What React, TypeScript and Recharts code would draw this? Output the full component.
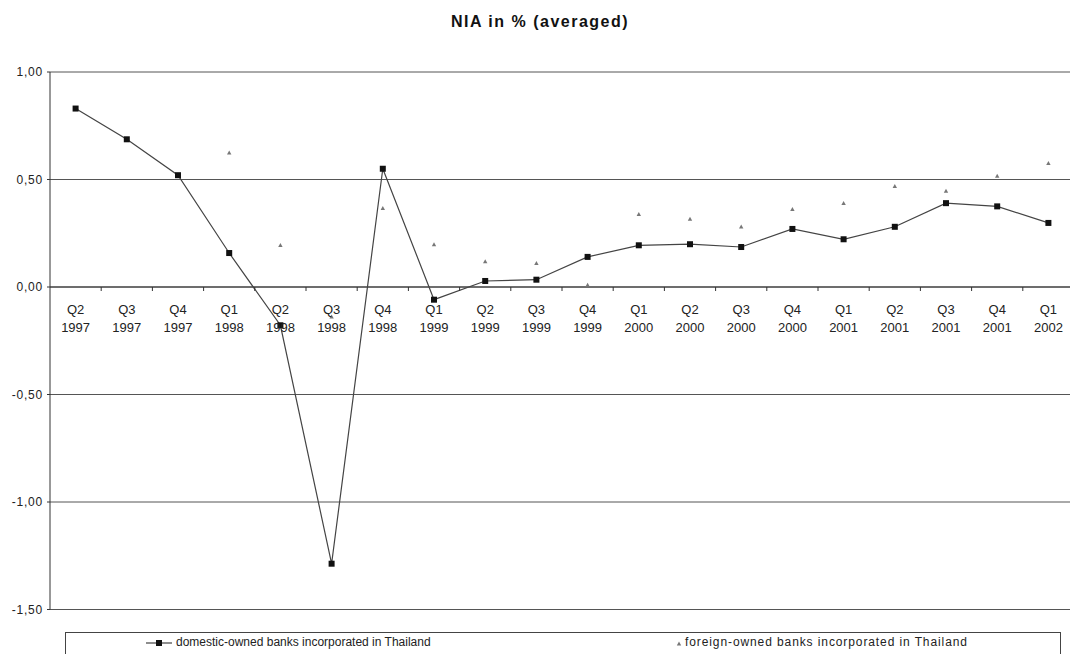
import React from 'react';
import {
  LineChart,
  Line,
  XAxis,
  YAxis,
  CartesianGrid,
  ReferenceLine,
} from 'recharts';

const quarterLabels = ['Q2', 'Q3', 'Q4', 'Q1', 'Q2', 'Q3', 'Q4', 'Q1', 'Q2', 'Q3', 'Q4', 'Q1', 'Q2', 'Q3', 'Q4', 'Q1', 'Q2', 'Q3', 'Q4', 'Q1'];
const yearLabels = ['1997', '1997', '1997', '1998', '1998', '1998', '1998', '1999', '1999', '1999', '1999', '2000', '2000', '2000', '2000', '2001', '2001', '2001', '2001', '2002'];

const domesticNia = [0.83, 0.687, 0.52, 0.158, -0.178, -1.287, 0.55, -0.059, 0.028, 0.034, 0.14, 0.194, 0.199, 0.186, 0.27, 0.222, 0.28, 0.39, 0.375, 0.298];
const foreignNia = [null, null, null, 0.623, 0.193, -0.14, 0.365, 0.197, 0.118, 0.109, 0.008, 0.337, 0.315, 0.279, 0.36, 0.388, 0.468, 0.445, 0.515, 0.574];

const yTicks = [-1.5, -1, -0.5, 0, 0.5, 1];

const data = quarterLabels.map((q, i) => ({
  key: `${q} ${yearLabels[i]}`,
  q,
  year: yearLabels[i],
  domestic: domesticNia[i],
  foreign: foreignNia[i],
}));

const FONT = '"Liberation Sans", Arial, sans-serif';
const Y_MIN = -1.5;
const Y_MAX = 1;
const PLOT_TOP = 72;
const PLOT_H = 537.5;
const PLOT_LEFT = 50;
const PLOT_W = 1024;
const BAND = PLOT_W / data.length;
const ZERO_Y = PLOT_TOP + (PLOT_H * Y_MAX) / (Y_MAX - Y_MIN);

const fmt = (v: number) => v.toFixed(2).replace('.', ',');

// category labels sit under the zero line, not at the bottom of the plot
const XTick = (props: any) => {
  const { x, index, payload } = props;
  const row = data[index] ?? data.find((d) => d.key === payload.value);
  return (
    <g>
      {index > 0 && (
        <line x1={x - BAND / 2} x2={x - BAND / 2} y1={ZERO_Y} y2={ZERO_Y + 4} stroke="#333" />
      )}
      <text x={x} y={ZERO_Y + 27} textAnchor="middle" fontSize={13} fill="#222" fontFamily={FONT}>
        {row?.q}
      </text>
      <text x={x} y={ZERO_Y + 45} textAnchor="middle" fontSize={13} fill="#222" fontFamily={FONT}>
        {row?.year}
      </text>
    </g>
  );
};

const SquareDot = (props: any) => {
  const { cx, cy, index } = props;
  if (cx == null || cy == null) return <g key={index} />;
  return <rect key={index} x={cx - 3} y={cy - 3} width={6} height={6} fill="#111" />;
};

const TriangleDot = (props: any) => {
  const { cx, cy, index, value } = props;
  if (cx == null || cy == null || value == null) return <g key={index} />;
  return (
    <polygon
      key={index}
      points={`${cx},${cy - 2.5} ${cx - 2.2},${cy + 1.5} ${cx + 2.2},${cy + 1.5}`}
      fill="#777"
    />
  );
};

export default function App() {
  return (
    <div
      style={{
        position: 'absolute',
        left: 0,
        top: 0,
        width: 1070,
        height: 654,
        overflow: 'hidden',
        background: '#fff',
        fontFamily: FONT,
      }}
    >
      <div
        style={{
          position: 'absolute',
          left: 0,
          width: 1080,
          top: 13,
          textAlign: 'center',
          fontSize: 16,
          lineHeight: '18px',
          fontWeight: 'bold',
          letterSpacing: 1.5,
          color: '#111',
        }}
      >
        NIA in % (averaged)
      </div>

      <div style={{ position: 'absolute', left: 0, top: 0 }}>
        <LineChart
          width={PLOT_LEFT + PLOT_W + 2}
          height={PLOT_TOP + PLOT_H + 40}
          data={data}
          margin={{ top: PLOT_TOP, right: 2, bottom: 39, left: 0 }}
        >
          <CartesianGrid vertical={false} stroke="#555" strokeWidth={1} />
          <XAxis
            dataKey="key"
            scale="band"
            interval={0}
            height={1}
            axisLine={false}
            tickLine={false}
            tick={<XTick />}
          />
          <YAxis
            width={PLOT_LEFT}
            domain={[Y_MIN, Y_MAX]}
            ticks={yTicks}
            tickFormatter={fmt}
            tickSize={3}
            tickMargin={4}
            axisLine={{ stroke: '#333' }}
            tickLine={{ stroke: '#333' }}
            tick={{ fontSize: 12, fill: '#222', fontFamily: FONT, letterSpacing: 0.8 }}
          />
          <ReferenceLine y={0} stroke="#333" />
          <Line
            dataKey="domestic"
            stroke="#444"
            strokeWidth={1.2}
            dot={<SquareDot />}
            activeDot={false}
            isAnimationActive={false}
          />
          <Line
            dataKey="foreign"
            stroke="none"
            strokeWidth={0}
            dot={<TriangleDot />}
            activeDot={false}
            connectNulls={false}
            isAnimationActive={false}
          />
        </LineChart>
      </div>

      {/* legend box, cut off at the bottom like the scan */}
      <div
        style={{
          position: 'absolute',
          left: 65,
          top: 632,
          width: 996,
          height: 30,
          border: '1px solid #444',
          boxSizing: 'border-box',
        }}
      >
        <svg style={{ position: 'absolute', left: 79, top: 4 }} width={28} height={12}>
          <line x1={1} x2={27} y1={6} y2={6} stroke="#444" strokeWidth={1.2} />
          <rect x={11} y={3} width={6} height={6} fill="#111" />
        </svg>
        <span style={{ position: 'absolute', left: 110, top: 2, fontSize: 12, color: '#222', whiteSpace: 'nowrap' }}>
          domestic-owned banks incorporated in Thailand
        </span>
        <svg style={{ position: 'absolute', left: 609, top: 7 }} width={8} height={8}>
          <polygon points="4,1.5 1.8,5.5 6.2,5.5" fill="#777" />
        </svg>
        <span
          style={{
            position: 'absolute',
            left: 619,
            top: 2,
            fontSize: 12,
            letterSpacing: 0.9,
            color: '#222',
            whiteSpace: 'nowrap',
          }}
        >
          foreign-owned banks incorporated in Thailand
        </span>
      </div>
    </div>
  );
}
